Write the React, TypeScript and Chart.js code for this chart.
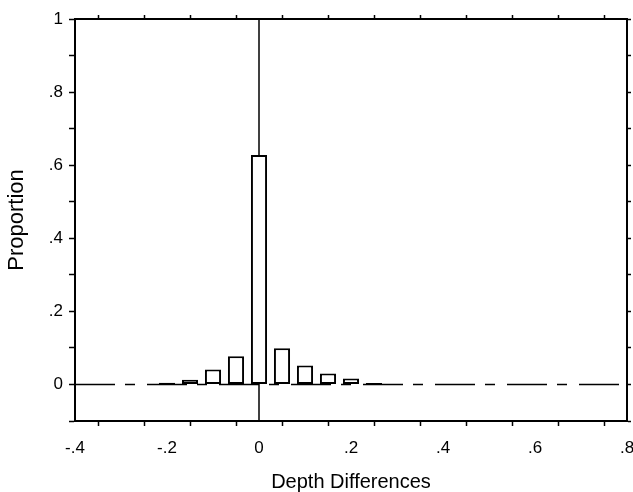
import React, { useEffect, useRef } from "react";
import { Chart, registerables } from "chart.js";

Chart.register(...registerables);

const binCenters = [-0.2, -0.15, -0.1, -0.05, 0, 0.05, 0.1, 0.15, 0.2, 0.25];
const proportions = [0.005, 0.013, 0.041, 0.077, 0.628, 0.099, 0.052, 0.03, 0.016, 0.004];

const xTickValues = [-0.4, -0.2, 0, 0.2, 0.4, 0.6, 0.8];
const xTickLabels = ["-.4", "-.2", "0", ".2", ".4", ".6", ".8"];
const yTickValues = [0, 0.2, 0.4, 0.6, 0.8, 1];
const yTickLabels = ["0", ".2", ".4", ".6", ".8", "1"];

const xTitle = "Depth Differences";
const yTitle = "Proportion";

const X_MIN = -0.4, X_MAX = 0.8, Y_MIN = -0.1, Y_MAX = 1;

const zeroLineX = [X_MIN, X_MAX];
const zeroLineY = [Y_MIN, Y_MAX];

function labelFor(values: number[], labels: string[], v: number): string {
  for (let i = 0; i < values.length; i++) {
    if (Math.abs(values[i] - v) < 1e-6) return labels[i];
  }
  return "";
}

const FONT = "'Liberation Sans', Arial, Helvetica, sans-serif";

function fixSize(prop: "width" | "height", size: number) {
  return (s: any) => {
    s[prop] = size;
    s.paddingLeft = 0;
    s.paddingRight = 0;
    s.paddingTop = 0;
    s.paddingBottom = 0;
  };
}

export default function App() {
  const ref = useRef<HTMLCanvasElement | null>(null);

  useEffect(() => {
    if (!ref.current) return;
    const chart = new Chart(ref.current, {
      type: "bar",
      data: {
        datasets: [
          {
            type: "bar",
            data: binCenters.map((x, i) => ({ x, y: proportions[i] })),
            backgroundColor: "#ffffff",
            borderColor: "#000000",
            borderWidth: 2,
            borderSkipped: false,
            barPercentage: 0.7,
            categoryPercentage: 1,
            order: 0,
          } as any,
          {
            type: "line",
            data: zeroLineX.map((x) => ({ x, y: 0 })),
            borderColor: "#000000",
            borderWidth: 1.5,
            borderDash: [40, 10, 10, 12],
            pointRadius: 0,
            order: 2,
          } as any,
          {
            type: "line",
            data: zeroLineY.map((y) => ({ x: 0, y })),
            borderColor: "#000000",
            borderWidth: 1.5,
            pointRadius: 0,
            order: 3,
          } as any,
        ],
      },
      options: {
        responsive: false,
        animation: false,
        layout: { padding: 0 },
        plugins: { legend: { display: false }, tooltip: { enabled: false } },
        scales: {
          x: {
            type: "linear",
            position: "bottom",
            min: X_MIN,
            max: X_MAX,
            offset: false,
            afterFit: fixSize("height", 71),
            ticks: {
              stepSize: 0.1,
              autoSkip: false,
              maxRotation: 0,
              color: "#000",
              padding: 12,
              font: { family: FONT, size: 17 },
              callback: (v: any) => labelFor(xTickValues, xTickLabels, Number(v)),
            },
            grid: { drawOnChartArea: false, tickLength: 5, tickColor: "#000", tickWidth: 1.5 },
            border: { display: true, color: "#000", width: 2 },
            title: {
              display: true,
              text: xTitle,
              color: "#000",
              font: { family: FONT, size: 20 },
              padding: { top: 0, bottom: -2 },
            },
          },
          x2: {
            type: "linear",
            position: "top",
            min: X_MIN,
            max: X_MAX,
            offset: false,
            afterFit: fixSize("height", 19),
            ticks: { stepSize: 0.1, display: false },
            grid: { drawOnChartArea: false, tickLength: 4, tickColor: "#000", tickWidth: 1.5 },
            border: { display: true, color: "#000", width: 2 },
          },
          y: {
            type: "linear",
            position: "left",
            min: Y_MIN,
            max: Y_MAX,
            afterFit: fixSize("width", 75),
            ticks: {
              stepSize: 0.1,
              autoSkip: false,
              color: "#000",
              padding: 6,
              font: { family: FONT, size: 17 },
              callback: (v: any) => labelFor(yTickValues, yTickLabels, Number(v)),
            },
            grid: { drawOnChartArea: false, tickLength: 6, tickColor: "#000", tickWidth: 1.5 },
            border: { display: true, color: "#000", width: 2 },
            title: {
              display: true,
              text: yTitle,
              color: "#000",
              font: { family: FONT, size: 22 },
              padding: { top: 4, bottom: 0 },
            },
          },
          y2: {
            type: "linear",
            position: "right",
            min: Y_MIN,
            max: Y_MAX,
            afterFit: fixSize("width", 6),
            ticks: { stepSize: 0.1, display: false },
            grid: { drawOnChartArea: false, tickLength: 4, tickColor: "#000", tickWidth: 1.5 },
            border: { display: true, color: "#000", width: 2 },
          },
        },
      } as any,
    });
    return () => chart.destroy();
  }, []);

  return (
    <div style={{ position: "absolute", left: 0, top: 0, width: 633, height: 492, background: "#fff" }}>
      <canvas ref={ref} width={633} height={492} style={{ display: "block" }} />
    </div>
  );
}
